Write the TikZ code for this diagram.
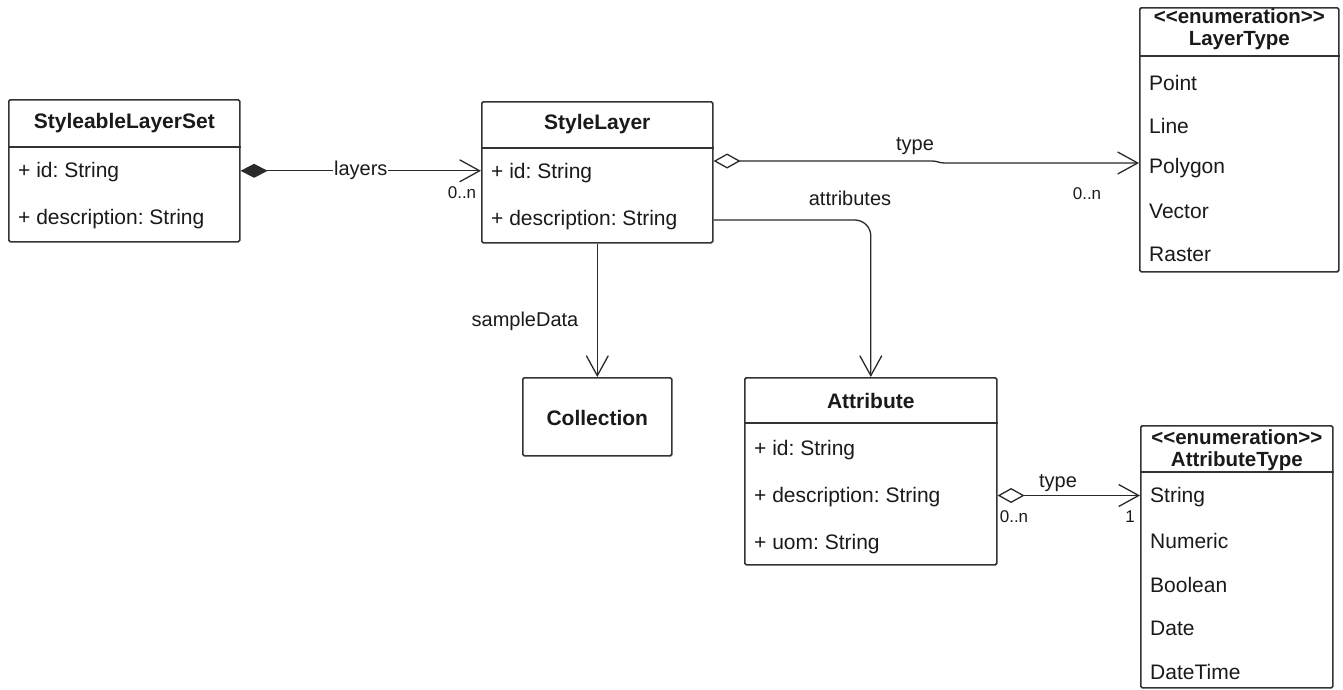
\documentclass[tikz,border=0pt]{standalone}
\usepackage{fontspec}
\setmainfont{Liberation Sans}
\usetikzlibrary{arrows.meta,calc}
\frenchspacing

\definecolor{boxc}{HTML}{333333}
\definecolor{linec}{HTML}{2A2A2A}
\definecolor{txtc}{HTML}{1A1A1A}

\tikzset{
  classbox/.style={draw=boxc, line width=1.6pt, rounded corners=1.5pt, fill=white,
    anchor=north west, inner sep=0pt},
  sepline/.style={draw=boxc, line width=1.6pt},
  ttl/.style={font=\bfseries\fontsize{21}{24}\selectfont, text=txtc, inner sep=0pt},
  enumttl/.style={font=\bfseries\fontsize{20.5}{24}\selectfont, text=txtc, inner sep=0pt},
  itm/.style={font=\fontsize{21}{24}\selectfont, text=txtc, anchor=west, inner sep=0pt},
  lbl/.style={font=\fontsize{20}{23}\selectfont, text=txtc, inner sep=1pt},
  mult/.style={font=\fontsize{17}{20}\selectfont, text=txtc, inner sep=0pt},
  conn/.style={draw=linec, line width=1.3pt},
  openhead/.style={-{Straight Barb[length=20pt,width=22pt,line width=1.3pt]}},
  comp/.style={{Diamond[length=27pt,width=14pt,fill=linec]}-{Straight Barb[length=20pt,width=22pt,line width=1.3pt]}},
  aggr/.style={{Diamond[open,length=27pt,width=15pt,fill=white,line width=1.3pt]}-{Straight Barb[length=20pt,width=22pt,line width=1.3pt]}},
}

\begin{document}
\begin{tikzpicture}[x=1pt,y=-1pt]
\useasboundingbox (0,0) rectangle (1343,689);

% ---------- StyleableLayerSet ----------
\node[classbox, minimum width=231pt, minimum height=142pt] (sls) at (8,99) {};
\draw[sepline] ($(sls.north west)+(0,48)$) -- ($(sls.north east)+(0,48)$);
\node[ttl] (sls-t) at ($(sls.north)+(0,24)$) {StyleableLayerSet};
\node[itm] (sls-a1) at ($(sls.north west)+(10,73)$) {+ id: String};
\node[itm] (sls-a2) at ($(sls.north west)+(10,120)$) {+ description: String};

% ---------- StyleLayer ----------
\node[classbox, minimum width=231pt, minimum height=141pt] (sl) at (481,101) {};
\draw[sepline] ($(sl.north west)+(0,47)$) -- ($(sl.north east)+(0,47)$);
\node[ttl] (sl-t) at ($(sl.north)+(0,23)$) {StyleLayer};
\node[itm] (sl-a1) at ($(sl.north west)+(10,72)$) {+ id: String};
\node[itm] (sl-a2) at ($(sl.north west)+(10,119)$) {+ description: String};

% ---------- LayerType ----------
\node[classbox, minimum width=199pt, minimum height=264pt] (lt) at (1139,7) {};
\draw[sepline] ($(lt.north west)+(0,49)$) -- ($(lt.north east)+(0,49)$);
\node[enumttl] (lt-s) at ($(lt.north)+(0,9)$) {{<}{<}enumeration{>}{>}};
\node[enumttl] (lt-t) at ($(lt.north)+(0,34)$) {LayerType};
\node[itm] (lt-1) at ($(lt.north west)+(10,76)$) {Point};
\node[itm] (lt-2) at ($(lt.north west)+(10,119)$) {Line};
\node[itm] (lt-3) at ($(lt.north west)+(10,161)$) {Polygon};
\node[itm] (lt-4) at ($(lt.north west)+(10,204)$) {Vector};
\node[itm] (lt-5) at ($(lt.north west)+(10,247)$) {Raster};
\coordinate (lt-in) at ($(lt.north west)+(0,156)$);

% ---------- Collection ----------
\node[classbox, minimum width=149pt, minimum height=78pt] (coll) at (522,377) {};
\node[ttl] (coll-t) at ($(coll.center)+(0,1)$) {Collection};

% ---------- Attribute ----------
\node[classbox, minimum width=252pt, minimum height=187pt] (attr) at (744,377) {};
\draw[sepline] ($(attr.north west)+(0,46)$) -- ($(attr.north east)+(0,46)$);
\node[ttl] (attr-t) at ($(attr.north)+(0,24)$) {Attribute};
\node[itm] (attr-a1) at ($(attr.north west)+(10,73)$) {+ id: String};
\node[itm] (attr-a2) at ($(attr.north west)+(10,120)$) {+ description: String};
\node[itm] (attr-a3) at ($(attr.north west)+(10,167)$) {+ uom: String};
\coordinate (attr-out) at ($(attr.north east)+(0,118.5)$);

% ---------- AttributeType ----------
\node[classbox, minimum width=192pt, minimum height=262pt] (at) at (1140,425) {};
\draw[sepline] ($(at.north west)+(0,47)$) -- ($(at.north east)+(0,47)$);
\node[enumttl] (at-s) at ($(at.north)+(0,12)$) {{<}{<}enumeration{>}{>}};
\node[enumttl] (at-t) at ($(at.north)+(0,36)$) {AttributeType};
\node[itm] (at-1) at ($(at.north west)+(10,72)$) {String};
\node[itm] (at-2) at ($(at.north west)+(10,116)$) {Numeric};
\node[itm] (at-3) at ($(at.north west)+(10,160)$) {Boolean};
\node[itm] (at-4) at ($(at.north west)+(10,203)$) {Date};
\node[itm] (at-5) at ($(at.north west)+(10,247)$) {DateTime};

% ---------- Connectors ----------
% composition: StyleableLayerSet -> StyleLayer
\draw[conn, comp] (sls.east) -- (sl.west |- sls.east)
  node[midway, lbl, fill=white] (lab-layers) {layers};
\node[mult] (m-layers) at (462,193) {0..n};

% aggregation: StyleLayer -> LayerType
\coordinate (sl-out) at ($(sl.north east)+(0,60)$);
\draw[conn, aggr] (sl-out) -- (932,161)
  .. controls (938,161) and (938,163) .. (945,163) -- (lt-in);
\node[lbl] (lab-type1) at (915,146) {type};
\node[mult] (m-type1) at (1087,194) {0..n};

% association: StyleLayer -> Attribute
\draw[conn, openhead, rounded corners=16pt] (sl.east |- sl-a2) -| (attr.north);
\node[lbl] (lab-attributes) at (850,198) {attributes};

% association: StyleLayer -> Collection
\draw[conn, openhead] (sl.south) -- (coll.north);
\node[lbl] (lab-sample) at (525,321) {sampleData};

% aggregation: Attribute -> AttributeType
\draw[conn, aggr] (attr-out) -- (at.west |- attr-out);
\node[lbl, fill=white, inner sep=0.5pt] (lab-type2) at (1058,483) {type};
\node[mult] (m-type2a) at (1014,517) {0..n};
\node[mult] (m-type2b) at (1130,517) {1};
\end{tikzpicture}
\end{document}
